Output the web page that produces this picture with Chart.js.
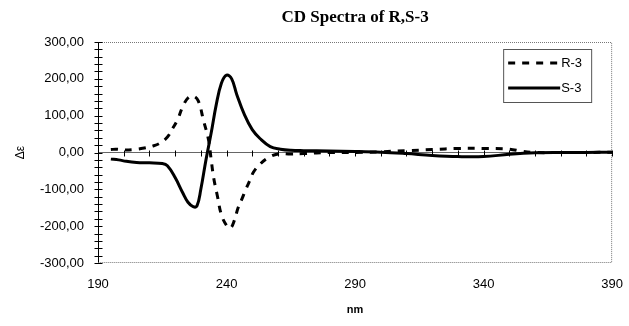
<!DOCTYPE html>
<html>
<head>
<meta charset="utf-8">
<script src="https://cdn.jsdelivr.net/npm/chart.js@4/dist/chart.umd.min.js"></script>
<style>
  html, body { margin: 0; padding: 0; background: #fff; }
  #wrap { width: 629px; height: 326px; }
</style>
</head>
<body>
<div id="wrap"><canvas id="cdChart" width="629" height="326"></canvas></div>
<script>
// CD spectra
const rWavelength = [195, 197, 200, 204, 208, 211, 214, 217, 219, 221, 223, 225, 227, 229, 231, 233, 234, 235, 236.5, 238, 240, 241.5, 243, 244.5, 246, 247.5, 249, 250.5, 253, 256, 260, 265, 270, 280, 290, 300, 310, 320, 330, 340, 350, 355, 360, 370, 380, 390];
const rValues = [8, 9, 7, 8, 12, 17, 25, 42, 65, 90, 125, 148, 153, 140, 88, 34, -18, -69, -120, -169, -198, -205, -185, -150, -126, -100, -77, -53, -32, -15, -4, -4, -3, 0, 0, 2, 5, 8, 11, 11, 9, 3, 0, 0, 0, 1];

const sWavelength = [195, 198, 201, 205, 210, 215, 217, 220, 223, 225, 227, 228.5, 230, 232, 234, 236, 238, 240, 242, 244, 247, 250, 253, 257, 261, 265, 270, 280, 290, 300, 310, 320, 330, 340, 350, 360, 370, 380, 390];
const sValues = [-18, -20, -24, -27, -28, -30, -36, -68, -110, -135, -147, -145, -100, -20, 52, 130, 188, 210, 200, 157, 102, 62, 38, 16, 9, 6, 5, 4, 3, 1, -3, -8, -11, -11, -5, -1, 0, 0, 1];

const xTicks = [190, 240, 290, 340, 390];
const yMin = -300, yMax = 300;

function toPoints(xs, ys) {
    return xs.map((x, i) => ({ x: x, y: ys[i] }));
}

// dotted frame, crossing tick marks and the legend box
const framePlugin = {
    id: 'frame',
    beforeDatasetsDraw(chart) {
        const a = chart.chartArea;
        const c = chart.ctx;
        const ys = chart.scales.y, xs = chart.scales.x2;
        c.save();
        c.strokeStyle = '#777';
        c.lineWidth = 1;
        c.setLineDash([1, 1]);
        c.beginPath();
        c.moveTo(a.left, a.top + 0.5);
        c.lineTo(a.right - 0.5, a.top + 0.5);
        c.lineTo(a.right - 0.5, a.bottom - 0.5);
        c.lineTo(a.left, a.bottom - 0.5);
        c.stroke();

        const x0 = Math.round(a.left) + 0.5;
        const y0 = Math.round(ys.getPixelForValue(0)) + 0.5;
        c.setLineDash([]);
        c.strokeStyle = '#000';
        c.beginPath();
        ys.ticks.forEach(t => {
            const py = Math.round(ys.getPixelForValue(t.value)) + 0.5;
            c.moveTo(x0 - 4, py);
            c.lineTo(x0 + 4, py);
        });
        xs.ticks.forEach(t => {
            const px = Math.round(xs.getPixelForValue(t.value)) + 0.5;
            c.moveTo(px, y0 - 3);
            c.lineTo(px, y0 + 3);
        });
        c.stroke();
        c.restore();
    },
    afterDraw(chart) {
        const a = chart.chartArea;
        const c = chart.ctx;
        const bx = a.right - 109, by = a.top + 7, bw = 88, bh = 53;
        c.save();
        c.fillStyle = '#fff';
        c.fillRect(bx, by, bw, bh);
        c.strokeStyle = '#555';
        c.lineWidth = 1;
        c.strokeRect(bx + 0.5, by + 0.5, bw, bh);
        c.font = '13px "Liberation Sans", Arial, sans-serif';
        c.textBaseline = 'middle';
        chart.data.datasets.forEach((ds, i) => {
            const ly = by + 14 + i * 25;
            c.strokeStyle = '#000';
            c.lineWidth = 3;
            c.setLineDash(ds.borderDash || []);
            c.beginPath();
            c.moveTo(bx + 5, ly);
            c.lineTo(bx + 57, ly);
            c.stroke();
            c.setLineDash([]);
            c.fillStyle = '#000';
            c.fillText(ds.label, bx + 58, ly);
        });
        c.restore();
    }
};

document.addEventListener('DOMContentLoaded', function() {
    const ctx = document.getElementById('cdChart').getContext('2d');

    new Chart(ctx, {
        type: 'line',
        data: {
            datasets: [{
                label: 'R-3',
                data: toPoints(rWavelength, rValues),
                borderColor: '#000',
                borderWidth: 3,
                borderDash: [7, 7],
                pointRadius: 0,
                fill: false,
                tension: 0.4
            }, {
                label: 'S-3',
                data: toPoints(sWavelength, sValues),
                borderColor: '#000',
                borderWidth: 3,
                pointRadius: 0,
                fill: false,
                tension: 0.4
            }]
        },
        options: {
            responsive: false,
            animation: false,
            layout: { padding: { left: 0, right: 5, top: 0, bottom: 0 } },
            plugins: {
                legend: { display: false },
                tooltip: { enabled: false },
                title: {
                    display: true,
                    text: 'CD Spectra of R,S-3',
                    fullSize: false,
                    color: '#000',
                    font: { family: '"Liberation Serif", "Times New Roman", serif', size: 17, weight: 'bold' },
                    padding: { top: 7, bottom: 14.6 }
                }
            },
            scales: {
                x: {
                    type: 'linear',
                    position: 'bottom',
                    min: 190,
                    max: 390,
                    afterBuildTicks: function(scale) {
                        scale.ticks = xTicks.map(v => ({ value: v }));
                    },
                    afterFit: function(scale) { scale.height = 63; },
                    grid: { display: false },
                    border: { display: false },
                    ticks: {
                        color: '#000',
                        padding: 6,
                        maxRotation: 0,
                        font: { family: '"Liberation Sans", Arial, sans-serif', size: 13 }
                    },
                    title: {
                        display: true,
                        text: 'nm',
                        color: '#000',
                        font: { family: '"Liberation Sans", Arial, sans-serif', size: 11, weight: 'bold' },
                        padding: { top: 0, bottom: 9 }
                    }
                },
                x2: {
                    type: 'linear',
                    position: { y: 0 },
                    min: 190,
                    max: 390,
                    afterBuildTicks: function(scale) {
                        const t = [];
                        for (let v = 190; v <= 390; v += 10) t.push({ value: v });
                        scale.ticks = t;
                    },
                    grid: { drawOnChartArea: false, drawTicks: false },
                    border: { color: '#666', width: 1 },
                    ticks: { display: false }
                },
                y: {
                    min: yMin,
                    max: yMax,
                    afterBuildTicks: function(scale) {
                        const t = [];
                        for (let v = yMin; v <= yMax; v += 20) t.push({ value: v });
                        scale.ticks = t;
                    },
                    afterFit: function(scale) { scale.width = 98; },
                    grid: { drawOnChartArea: false, drawTicks: false },
                    border: { color: '#000', width: 1 },
                    ticks: {
                        autoSkip: false,
                        padding: 14,
                        color: '#000',
                        font: { family: '"Liberation Sans", Arial, sans-serif', size: 13 },
                        callback: function(value) {
                            if (value % 100 !== 0) return '';
                            return value.toFixed(2).replace('.', ',');
                        }
                    },
                    title: {
                        display: true,
                        text: 'Δε',
                        color: '#000',
                        font: { family: '"Liberation Sans", Arial, sans-serif', size: 12 },
                        padding: { top: 13, bottom: 0 }
                    }
                }
            }
        },
        plugins: [framePlugin]
    });
});
</script>
</body>
</html>
